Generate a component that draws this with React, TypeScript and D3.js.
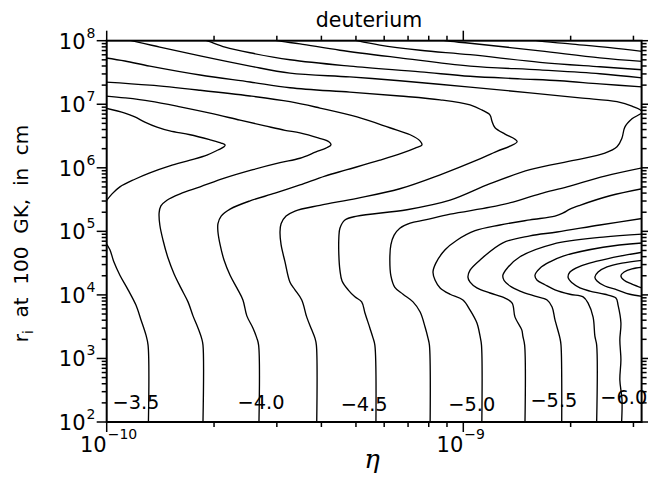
import React from "react";
import * as d3 from "d3";

const WIDTH = 648;
const HEIGHT = 483;
const PLOT = { left: 106.7, right: 641.6, top: 40.7, bottom: 422 };

const ETA_MIN = 1e-10;
const ETA_MAX = Math.pow(10, -8.5);
const R_MIN = 1e2;
const R_MAX = 1e8;

const etaDecades = [-10, -9];
const rDecades = [2, 3, 4, 5, 6, 7, 8];

type Pt = [number, number];

// Contours of log10(D/H). Each point is [log10 eta, log10 r_i (cm)].
const dh350Lower: Pt[] = [[-9.883,2.00],[-9.884,3.21],[-9.890,3.37],[-9.904,3.61],[-9.918,3.84],[-9.940,4.08],[-9.963,4.31],[-9.980,4.52],[-9.991,4.71],[-10.005,4.84]];
const dh350Upper: Pt[] = [[-10.005,5.45],[-9.985,5.59],[-9.963,5.70],[-9.921,5.82],[-9.879,5.92],[-9.823,6.03],[-9.766,6.12],[-9.719,6.20],[-9.688,6.28],[-9.671,6.33],[-9.668,6.36],[-9.679,6.39],[-9.710,6.44],[-9.766,6.52],[-9.823,6.58],[-9.859,6.64],[-9.893,6.72],[-9.921,6.80],[-9.949,6.86],[-10.005,6.94]];
const dh375: Pt[] = [[-9.730,2.00],[-9.730,3.21],[-9.734,3.32],[-9.744,3.48],[-9.758,3.67],[-9.772,3.89],[-9.792,4.11],[-9.811,4.33],[-9.828,4.58],[-9.842,4.86],[-9.851,5.10],[-9.853,5.29],[-9.848,5.40],[-9.831,5.49],[-9.794,5.59],[-9.738,5.70],[-9.668,5.84],[-9.590,5.97],[-9.514,6.08],[-9.458,6.15],[-9.413,6.25],[-9.385,6.31],[-9.371,6.36],[-9.377,6.41],[-9.407,6.47],[-9.458,6.55],[-9.500,6.59],[-9.556,6.66],[-9.626,6.75],[-9.710,6.86],[-9.794,6.96],[-9.879,7.05],[-9.949,7.10],[-10.005,7.13]];
const dh400: Pt[] = [[-9.573,2.00],[-9.574,3.21],[-9.579,3.32],[-9.590,3.48],[-9.607,3.67],[-9.618,3.92],[-9.635,4.11],[-9.654,4.31],[-9.671,4.55],[-9.682,4.79],[-9.688,4.99],[-9.688,5.12],[-9.679,5.24],[-9.654,5.35],[-9.598,5.48],[-9.528,5.60],[-9.458,5.73],[-9.388,5.87],[-9.326,5.97],[-9.234,6.12],[-9.172,6.23],[-9.135,6.31],[-9.116,6.36],[-9.121,6.42],[-9.149,6.52],[-9.206,6.63],[-9.298,6.80],[-9.402,6.94],[-9.486,7.04],[-9.598,7.13],[-9.738,7.22],[-9.879,7.30],[-10.005,7.35]];
const dh425: Pt[] = [[-9.411,2.00],[-9.412,3.21],[-9.416,3.32],[-9.425,3.45],[-9.439,3.65],[-9.453,3.92],[-9.472,4.08],[-9.486,4.20],[-9.500,4.52],[-9.511,4.79],[-9.514,4.99],[-9.511,5.12],[-9.497,5.24],[-9.472,5.32],[-9.402,5.41],[-9.298,5.52],[-9.178,5.67],[-9.065,5.89],[-8.962,6.12],[-8.906,6.26],[-8.869,6.34],[-8.849,6.41],[-8.855,6.45],[-8.883,6.53],[-8.911,6.63],[-8.920,6.74],[-8.925,6.83],[-8.948,6.91],[-8.981,6.99],[-9.065,7.07],[-9.178,7.13],[-9.318,7.19],[-9.486,7.26],[-9.598,7.35],[-9.738,7.46],[-9.879,7.60],[-9.949,7.68],[-10.005,7.73]];
const dh450: Pt[] = [[-9.245,2.00],[-9.248,3.21],[-9.253,3.32],[-9.262,3.48],[-9.276,3.72],[-9.285,3.89],[-9.304,3.97],[-9.323,4.08],[-9.340,4.22],[-9.346,4.39],[-9.349,4.63],[-9.349,4.90],[-9.346,5.05],[-9.332,5.18],[-9.298,5.24],[-9.158,5.34],[-9.037,5.49],[-8.925,5.75],[-8.813,5.97],[-8.687,6.12],[-8.603,6.23],[-8.569,6.33],[-8.555,6.47],[-8.547,6.64],[-8.527,6.77],[-8.498,6.88],[-8.527,6.97],[-8.569,7.04],[-8.673,7.10],[-8.813,7.18],[-8.981,7.27],[-9.178,7.37],[-9.318,7.43],[-9.486,7.49],[-9.598,7.60],[-9.738,7.76],[-9.851,7.90],[-9.930,8.00],[-9.950,8.03]];
const dh475Lower: Pt[] = [[-9.093,2.00],[-9.095,3.21],[-9.099,3.32],[-9.107,3.49],[-9.121,3.73],[-9.141,3.89],[-9.169,4.01],[-9.192,4.12],[-9.203,4.30],[-9.206,4.55],[-9.203,4.79],[-9.194,4.94],[-9.178,5.05],[-9.149,5.13],[-9.107,5.18],[-9.037,5.27],[-8.925,5.38],[-8.861,5.46],[-8.785,5.59],[-8.709,5.70],[-8.603,5.87],[-8.49,6.01]];
const dh475Upper: Pt[] = [[-8.49,7.27],[-8.617,7.32],[-8.729,7.37],[-8.841,7.40],[-8.981,7.44],[-9.121,7.51],[-9.318,7.60],[-9.486,7.70],[-9.598,7.81],[-9.668,7.90],[-9.719,8.00],[-9.740,8.03]];
const dh500Lower: Pt[] = [[-8.948,2.00],[-8.949,3.21],[-8.953,3.35],[-8.962,3.56],[-8.981,3.76],[-9.001,3.92],[-9.037,4.01],[-9.065,4.11],[-9.079,4.23],[-9.085,4.36],[-9.077,4.50],[-9.051,4.71],[-9.018,4.86],[-8.967,5.01],[-8.897,5.10],[-8.813,5.18],[-8.743,5.24],[-8.720,5.29],[-8.701,5.35],[-8.673,5.41],[-8.589,5.56],[-8.49,5.68]];
const dh500Upper: Pt[] = [[-8.49,7.41],[-8.617,7.48],[-8.785,7.54],[-8.981,7.60],[-9.178,7.73],[-9.346,7.85],[-9.458,7.95],[-9.522,8.00],[-9.540,8.03]];
const dh525Lower: Pt[] = [[-8.827,2.00],[-8.828,3.21],[-8.833,3.35],[-8.836,3.45],[-8.855,3.65],[-8.863,3.87],[-8.883,3.95],[-8.925,4.03],[-8.962,4.11],[-8.981,4.20],[-8.987,4.28],[-8.981,4.39],[-8.953,4.55],[-8.889,4.82],[-8.813,4.93],[-8.737,4.99],[-8.617,5.10],[-8.49,5.21]];
const dh525Upper: Pt[] = [[-8.49,7.54],[-8.617,7.59],[-8.785,7.66],[-8.981,7.78],[-9.121,7.85],[-9.234,7.93],[-9.298,8.00],[-9.320,8.03]];
const dh550Lower: Pt[] = [[-8.724,2.00],[-8.726,3.21],[-8.729,3.32],[-8.743,3.61],[-8.751,3.81],[-8.765,3.92],[-8.799,3.98],[-8.841,4.06],[-8.869,4.14],[-8.886,4.23],[-8.889,4.31],[-8.877,4.42],[-8.841,4.60],[-8.748,4.80],[-8.608,4.91],[-8.49,4.96]];
const dh550Upper: Pt[] = [[-8.49,7.67],[-8.617,7.73],[-8.785,7.84],[-8.981,7.96],[-9.051,8.00],[-9.070,8.03]];
const dh575Lower: Pt[] = [[-8.626,2.00],[-8.626,3.21],[-8.631,3.35],[-8.636,3.65],[-8.650,3.87],[-8.664,3.97],[-8.701,4.01],[-8.743,4.08],[-8.771,4.16],[-8.793,4.23],[-8.799,4.31],[-8.785,4.42],[-8.757,4.52],[-8.720,4.61],[-8.608,4.75],[-8.49,4.82]];
const dh575Upper: Pt[] = [[-8.49,7.825],[-8.589,7.89],[-8.701,7.95],[-8.793,8.00],[-8.810,8.03]];
const dh600: Pt[] = [[-8.556,2.00],[-8.555,2.35],[-8.561,2.66],[-8.558,2.98],[-8.561,3.29],[-8.558,3.56],[-8.566,3.84],[-8.572,3.95],[-8.603,4.01],[-8.645,4.06],[-8.673,4.11],[-8.695,4.19],[-8.706,4.27],[-8.701,4.36],[-8.673,4.45],[-8.625,4.53],[-8.561,4.61],[-8.49,4.68]];
const dh625: Pt[] = [[-8.49,3.97],[-8.533,4.01],[-8.569,4.08],[-8.603,4.14],[-8.625,4.22],[-8.631,4.28],[-8.622,4.36],[-8.597,4.44],[-8.555,4.50],[-8.49,4.55]];
const dh650: Pt[] = [[-8.49,4.09],[-8.527,4.17],[-8.549,4.23],[-8.558,4.30],[-8.549,4.36],[-8.527,4.41],[-8.49,4.44]];

const contourLines: { level: number; pts: Pt[] }[] = [
  { level: -3.5, pts: dh350Lower },
  { level: -3.5, pts: dh350Upper },
  { level: -3.75, pts: dh375 },
  { level: -4.0, pts: dh400 },
  { level: -4.25, pts: dh425 },
  { level: -4.5, pts: dh450 },
  { level: -4.75, pts: dh475Lower },
  { level: -4.75, pts: dh475Upper },
  { level: -5.0, pts: dh500Lower },
  { level: -5.0, pts: dh500Upper },
  { level: -5.25, pts: dh525Lower },
  { level: -5.25, pts: dh525Upper },
  { level: -5.5, pts: dh550Lower },
  { level: -5.5, pts: dh550Upper },
  { level: -5.75, pts: dh575Lower },
  { level: -5.75, pts: dh575Upper },
  { level: -6.0, pts: dh600 },
  { level: -6.25, pts: dh625 },
  { level: -6.5, pts: dh650 },
];

// Level labels: text, anchor [log10 eta, log10 r]
const labelTexts = ["\u22123.5", "\u22124.0", "\u22124.5", "\u22125.0", "\u22125.5", "\u22126.0"];
const labelEta = [-9.918, -9.567, -9.278, -8.976, -8.746, -8.550];
const labelR = [2.2, 2.2, 2.18, 2.18, 2.24, 2.29];

const FONT = "'DejaVu Sans', 'Liberation Sans', sans-serif";

function logTicks(min: number, max: number) {
  const out: { v: number; major: boolean }[] = [];
  const e0 = Math.floor(Math.log10(min));
  const e1 = Math.ceil(Math.log10(max));
  for (let e = e0; e <= e1; e++) {
    for (let k = 1; k <= 9; k++) {
      const v = k * Math.pow(10, e);
      if (v >= min * 0.9999 && v <= max * 1.0001) out.push({ v, major: k === 1 });
    }
  }
  return out;
}

export default function App() {
  const x = d3.scaleLog().domain([ETA_MIN, ETA_MAX]).range([PLOT.left, PLOT.right]);
  const y = d3.scaleLog().domain([R_MIN, R_MAX]).range([PLOT.bottom, PLOT.top]);
  const line = d3
    .line<Pt>()
    .x((d) => x(Math.pow(10, d[0])))
    .y((d) => y(Math.pow(10, d[1])))
    .curve(d3.curveCatmullRom.alpha(0.5));

  const xTicks = logTicks(ETA_MIN, ETA_MAX);
  const yTicks = logTicks(R_MIN, R_MAX);
  const MAJ = 10;
  const MIN = 5;

  return (
    <svg
      width={WIDTH}
      height={HEIGHT}
      viewBox={`0 0 ${WIDTH} ${HEIGHT}`}
      style={{ position: "absolute", left: 0, top: 0, display: "block", background: "#fff" }}
      fontFamily={FONT}
    >
      <rect x={0} y={0} width={WIDTH} height={HEIGHT} fill="#fff" />
      <defs>
        <clipPath id="plotClip">
          <rect x={PLOT.left} y={PLOT.top} width={PLOT.right - PLOT.left} height={PLOT.bottom - PLOT.top} />
        </clipPath>
      </defs>

      <g clipPath="url(#plotClip)">
        {contourLines.map((c, i) => (
          <path key={i} d={line(c.pts) || ""} fill="none" stroke="#000" strokeWidth={1.35} strokeLinejoin="round" />
        ))}
      </g>

      {labelTexts.map((t, i) => (
        <text
          key={t}
          x={x(Math.pow(10, labelEta[i]))}
          y={y(Math.pow(10, labelR[i]))}
          textAnchor="middle"
          fontSize={19.5}
          textLength={47}
          lengthAdjust="spacingAndGlyphs"
          fill="#000"
        >
          {t}
        </text>
      ))}

      {/* frame */}
      <rect
        x={PLOT.left}
        y={PLOT.top}
        width={PLOT.right - PLOT.left}
        height={PLOT.bottom - PLOT.top}
        fill="none"
        stroke="#000"
        strokeWidth={2}
      />

      {/* eta ticks, bottom and top */}
      {xTicks.map((t, i) => {
        const px = x(t.v);
        const len = t.major ? MAJ : MIN;
        return (
          <g key={"xt" + i} stroke="#000" strokeWidth={1.5}>
            <line x1={px} x2={px} y1={PLOT.bottom} y2={PLOT.bottom + len} />
            <line x1={px} x2={px} y1={PLOT.top} y2={PLOT.top - len} />
          </g>
        );
      })}
      {/* r ticks, left and right */}
      {yTicks.map((t, i) => {
        const py = y(t.v);
        const len = t.major ? MAJ : MIN;
        return (
          <g key={"yt" + i} stroke="#000" strokeWidth={1.5}>
            <line x1={PLOT.left} x2={PLOT.left - len} y1={py} y2={py} />
            <line x1={PLOT.right} x2={PLOT.right + len} y1={py} y2={py} />
          </g>
        );
      })}

      {/* eta tick labels */}
      {etaDecades.map((e) => {
        const px = x(Math.pow(10, e));
        return (
          <g key={"xl" + e} fill="#000">
            <text x={px} y={452} textAnchor="end" fontSize={21}>10</text>
            <text x={px + 1} y={439} textAnchor="start" fontSize={14}>{"\u2212" + Math.abs(e)}</text>
          </g>
        );
      })}

      {/* r tick labels */}
      {rDecades.map((e) => {
        const py = y(Math.pow(10, e));
        return (
          <g key={"yl" + e} fill="#000">
            <text x={85.5} y={py + 8} textAnchor="end" fontSize={21}>10</text>
            <text x={86.5} y={py - 3} textAnchor="start" fontSize={14}>{String(e)}</text>
          </g>
        );
      })}

      {/* titles */}
      <text x={369} y={26.7} textAnchor="middle" fontSize={20.5} fill="#000">deuterium</text>
      <text x={372} y={468} textAnchor="middle" fontSize={26} fontStyle="italic" fontFamily="'DejaVu Serif', serif" fill="#000">
        η
      </text>
      <text
        transform="translate(28,233.5) rotate(-90)"
        textAnchor="middle"
        fontSize={20}
        fill="#000"
        xmlSpace="preserve"
        style={{ whiteSpace: "pre" }}
      >
        r<tspan fontSize={14} dy={5}>i</tspan>
        <tspan dy={-5}>{"  at  100  GK,  in  cm"}</tspan>
      </text>
    </svg>
  );
}
